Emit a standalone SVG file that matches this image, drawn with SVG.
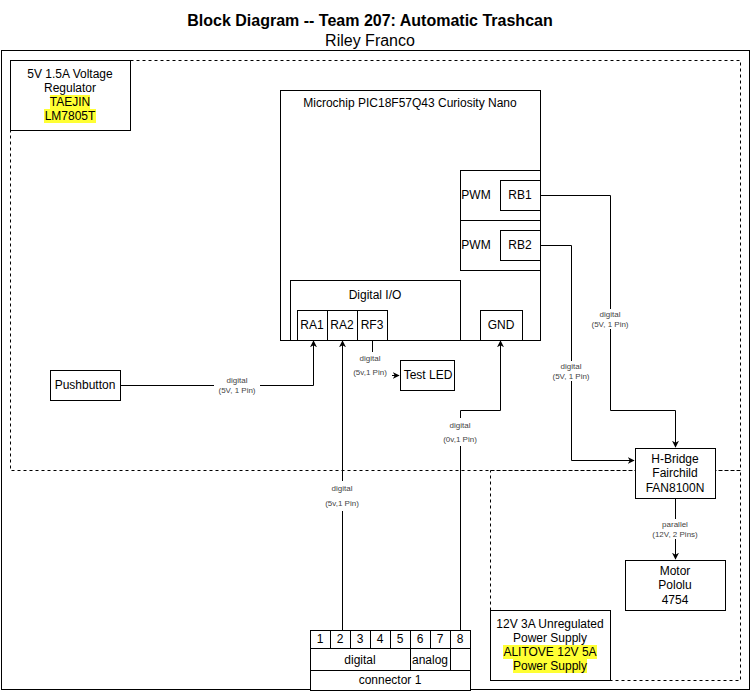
<svg xmlns="http://www.w3.org/2000/svg" width="751" height="691" viewBox="0 0 751 691">
<defs>
<style>
.b{fill:#fff;stroke:#000;stroke-width:1}
.n{fill:none;stroke:#000;stroke-width:1}
.d{fill:none;stroke:#000;stroke-width:1;stroke-dasharray:3 3}
.e{fill:none;stroke:#000;stroke-width:1}
text{font-family:"Liberation Sans",Arial,sans-serif;fill:#000}
.t{font-size:12px;text-anchor:middle;dominant-baseline:central}
.l{font-size:8px;fill:#444;text-anchor:middle;dominant-baseline:central}
.hl{fill:#ffff33}
</style>
<marker id="a" viewBox="0 0 10 10" refX="9" refY="5" markerWidth="7" markerHeight="7" orient="auto">
<path d="M0,0 L10,5 L0,10 L3,5 z" fill="#000"/>
</marker>
</defs>
<rect x="0" y="0" width="751" height="691" fill="#fff"/>
<g id="title">
<text x="370" y="20" font-size="16" font-weight="bold" text-anchor="middle" dominant-baseline="central">Block Diagram -- Team 207: Automatic Trashcan</text>
<text x="370" y="40" font-size="16" text-anchor="middle" dominant-baseline="central">Riley Franco</text>
</g>
<g id="frame">
<rect x="1.5" y="50.5" width="748" height="639" class="n"/>
</g>
<g id="zone5v">
<rect x="10.5" y="60.5" width="730" height="410" class="d"/>
</g>
<g id="zone12v">
<rect x="490.5" y="470.5" width="250" height="210" class="d"/>
</g>
<g id="regulator">
<rect x="10.5" y="60.5" width="120" height="70" class="b"/>
<text x="70" y="74" class="t">5V 1.5A Voltage</text>
<text x="70" y="88" class="t">Regulator</text>
<rect x="50" y="95" width="40" height="14" class="hl"/>
<text x="70" y="102" class="t">TAEJIN</text>
<rect x="44" y="109" width="52" height="14" class="hl"/>
<text x="70" y="116" class="t">LM7805T</text>
</g>
<g id="microchip">
<rect x="280.5" y="90.5" width="260" height="250" class="b"/>
<text x="410" y="103" class="t">Microchip PIC18F57Q43 Curiosity Nano</text>
</g>
<g id="pwm1">
<rect x="460.5" y="170.5" width="80" height="50" class="b"/>
<text x="476" y="195" class="t">PWM</text>
</g>
<g id="rb1">
<rect x="500.5" y="180.5" width="40" height="30" class="b"/>
<text x="520" y="195" class="t">RB1</text>
</g>
<g id="pwm2">
<rect x="460.5" y="220.5" width="80" height="50" class="b"/>
<text x="476" y="245" class="t">PWM</text>
</g>
<g id="rb2">
<rect x="500.5" y="230.5" width="40" height="30" class="b"/>
<text x="520" y="245" class="t">RB2</text>
</g>
<g id="digitalio">
<rect x="290.5" y="280.5" width="170" height="60" class="b"/>
<text x="375" y="295" class="t">Digital I/O</text>
</g>
<g id="ra1">
<rect x="297.5" y="310.5" width="30" height="30" class="b"/>
<text x="312" y="325" class="t">RA1</text>
</g>
<g id="ra2">
<rect x="327.5" y="310.5" width="30" height="30" class="b"/>
<text x="342" y="325" class="t">RA2</text>
</g>
<g id="rf3">
<rect x="357.5" y="310.5" width="30" height="30" class="b"/>
<text x="372" y="325" class="t">RF3</text>
</g>
<g id="gnd">
<rect x="480.5" y="310.5" width="42" height="30" class="b"/>
<text x="501" y="325" class="t">GND</text>
</g>
<g id="pushbutton">
<rect x="50.5" y="370.5" width="70" height="30" class="b"/>
<text x="85" y="385" class="t">Pushbutton</text>
</g>
<g id="testled">
<rect x="400.5" y="360.5" width="54" height="30" class="b"/>
<text x="428" y="375" class="t">Test LED</text>
</g>
<g id="hbridge">
<rect x="635.5" y="448.5" width="80" height="50" class="b"/>
<text x="675" y="459" class="t">H-Bridge</text>
<text x="675" y="473" class="t">Fairchild</text>
<text x="675" y="488" class="t">FAN8100N</text>
</g>
<g id="motor">
<rect x="625.5" y="560.5" width="100" height="50" class="b"/>
<text x="675" y="571" class="t">Motor</text>
<text x="675" y="585" class="t">Pololu</text>
<text x="675" y="600" class="t">4754</text>
</g>
<g id="supply12v">
<rect x="490.5" y="610.5" width="120" height="70" class="b"/>
<text x="550" y="624" class="t">12V 3A Unregulated</text>
<text x="550" y="638" class="t">Power Supply</text>
<rect x="503" y="645" width="94" height="14" class="hl"/>
<text x="550" y="652" class="t">ALITOVE 12V 5A</text>
<rect x="513" y="659" width="74" height="14" class="hl"/>
<text x="550" y="666" class="t">Power Supply</text>
</g>
<g id="connector">
<rect x="310.5" y="630.5" width="20" height="18" class="b"/>
<text x="320" y="639" class="t">1</text>
<rect x="330.5" y="630.5" width="20" height="18" class="b"/>
<text x="340" y="639" class="t">2</text>
<rect x="350.5" y="630.5" width="20" height="18" class="b"/>
<text x="360" y="639" class="t">3</text>
<rect x="370.5" y="630.5" width="20" height="18" class="b"/>
<text x="380" y="639" class="t">4</text>
<rect x="390.5" y="630.5" width="20" height="18" class="b"/>
<text x="400" y="639" class="t">5</text>
<rect x="410.5" y="630.5" width="20" height="18" class="b"/>
<text x="420" y="639" class="t">6</text>
<rect x="430.5" y="630.5" width="20" height="18" class="b"/>
<text x="440" y="639" class="t">7</text>
<rect x="450.5" y="630.5" width="20" height="18" class="b"/>
<text x="460" y="639" class="t">8</text>
<rect x="310.5" y="648.5" width="100" height="22" class="b"/>
<text x="360" y="660" class="t">digital</text>
<rect x="410.5" y="648.5" width="40" height="22" class="b"/>
<text x="430" y="660" class="t">analog</text>
<line x1="470.5" y1="648.5" x2="470.5" y2="670.5" class="n"/>
<rect x="310.5" y="670.5" width="160" height="20" class="b"/>
<text x="390" y="680" class="t">connector 1</text>
</g>
<g id="connectors">
<path d="M120.5,385.5 H313.5 V341" class="e" marker-end="url(#a)"/>
<rect x="214" y="376" width="46" height="18" fill="#fff"/>
<text x="237" y="380" class="l">digital</text>
<text x="237" y="390" class="l">(5V, 1 Pin)</text>
<path d="M342.5,630 V341" class="e" marker-end="url(#a)"/>
<rect x="320" y="481" width="44" height="30" fill="#fff"/>
<text x="342" y="488" class="l">digital</text>
<text x="342" y="503" class="l">(5v,1 Pin)</text>
<path d="M372.5,340.5 V375.5 H399" class="e" marker-end="url(#a)"/>
<rect x="350" y="352" width="42" height="26" fill="#fff"/>
<text x="370" y="358" class="l">digital</text>
<text x="370" y="372" class="l">(5v,1 Pin)</text>
<path d="M460.5,630 V410.5 H500.5 V341" class="e" marker-end="url(#a)"/>
<rect x="440" y="418" width="42" height="28" fill="#fff"/>
<text x="460" y="425" class="l">digital</text>
<text x="460" y="439" class="l">(0v,1 Pin)</text>
<path d="M540.5,195.5 H610.5 V410.5 H675.5 V447" class="e" marker-end="url(#a)"/>
<rect x="588" y="309" width="44" height="20" fill="#fff"/>
<text x="610" y="314" class="l">digital</text>
<text x="610" y="324" class="l">(5V, 1 Pin)</text>
<path d="M540.5,245.5 H571.5 V460.5 H634" class="e" marker-end="url(#a)"/>
<rect x="549" y="361" width="44" height="20" fill="#fff"/>
<text x="571" y="366" class="l">digital</text>
<text x="571" y="376" class="l">(5V, 1 Pin)</text>
<path d="M675.5,498.5 V559" class="e" marker-end="url(#a)"/>
<rect x="650" y="519" width="50" height="20" fill="#fff"/>
<text x="675" y="524" class="l">parallel</text>
<text x="675" y="534" class="l">(12V, 2 Pins)</text>
</g>
</svg>
